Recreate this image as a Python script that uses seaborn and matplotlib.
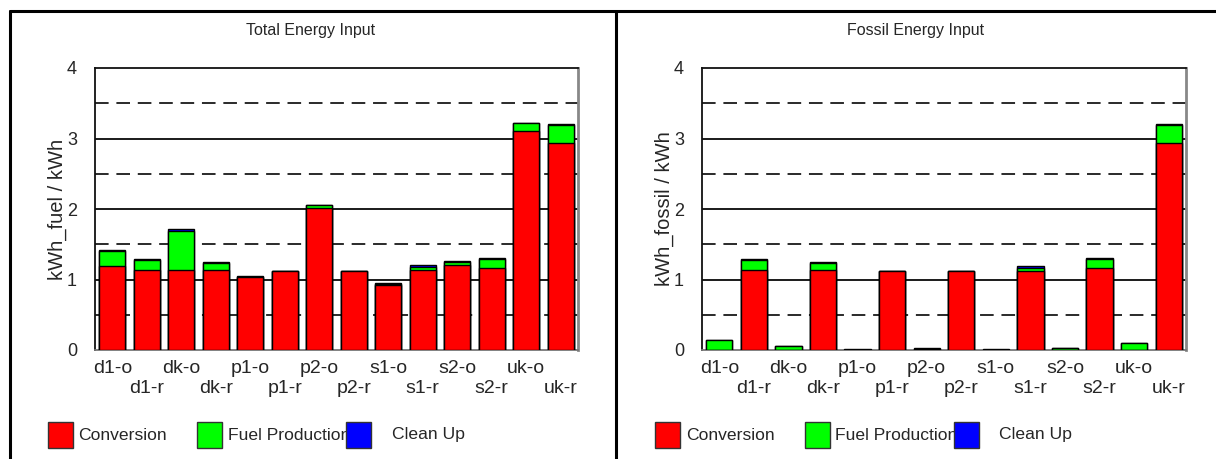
import matplotlib
matplotlib.use("Agg")
import matplotlib.pyplot as plt
from matplotlib.patches import Rectangle
from matplotlib.lines import Line2D
import numpy as np
import pandas as pd
import seaborn as sns

categories = ['d1-o', 'd1-r', 'dk-o', 'dk-r', 'p1-o', 'p1-r', 'p2-o', 'p2-r',
              's1-o', 's1-r', 's2-o', 's2-r', 'uk-o', 'uk-r']
series_names = ['Conversion', 'Fuel Production', 'Clean Up']

total_conversion = [1.19, 1.14, 1.14, 1.14, 1.03, 1.12, 2.01, 1.12, 0.92, 1.13, 1.21, 1.17, 3.11, 2.93]
total_fuel = [0.21, 0.14, 0.55, 0.10, 0.01, 0.00, 0.04, 0.00, 0.02, 0.05, 0.04, 0.12, 0.11, 0.26]
total_clean = [0.02, 0.01, 0.02, 0.01, 0.01, 0.005, 0.01, 0.005, 0.01, 0.02, 0.01, 0.01, 0.005, 0.01]

fossil_conversion = [0.0, 1.14, 0.0, 1.14, 0.0, 1.12, 0.0, 1.12, 0.0, 1.12, 0.0, 1.17, 0.0, 2.93]
fossil_fuel = [0.14, 0.14, 0.05, 0.10, 0.0, 0.0, 0.015, 0.0, 0.0, 0.05, 0.03, 0.12, 0.10, 0.26]
fossil_clean = [0.005, 0.01, 0.005, 0.01, 0.01, 0.005, 0.01, 0.005, 0.01, 0.02, 0.005, 0.01, 0.005, 0.02]

titles = ['Total Energy Input', 'Fossil Energy Input']
ylabels = ['kWh_fuel / kWh', 'kWh_fossil / kWh']
colors = ['#FF0000', '#00FF00', '#0000FF']

sns.set_theme(style='white')
plt.rcParams['font.family'] = ['Liberation Sans', 'DejaVu Sans']

W, H = 1216, 459
fig = plt.figure(figsize=(W / 100, H / 100), dpi=100)

def px_axes(x0, x1, ytop, ybot):
    return fig.add_axes([x0 / W, (H - ybot) / H, (x1 - x0) / W, (ybot - ytop) / H])

axes = [px_axes(95, 578, 68, 350), px_axes(702, 1186, 68, 350)]
datasets = [(total_conversion, total_fuel, total_clean),
            (fossil_conversion, fossil_fuel, fossil_clean)]

for ax, (conv, fuel, clean), ylabel in zip(axes, datasets, ylabels):
    conv = np.array(conv); fuel = np.array(fuel); clean = np.array(clean)
    layers = [conv + fuel + clean, conv + fuel, conv]
    layer_colors = [colors[2], colors[1], colors[0]]
    for heights, col in zip(layers, layer_colors):
        df = pd.DataFrame({'cat': categories, 'val': heights})
        sns.barplot(data=df, x='cat', y='val', order=categories, color=col,
                    saturation=1, width=0.76, edgecolor='black', linewidth=1.0,
                    ax=ax, zorder=3)
    ax.set_ylim(0, 4)
    ax.set_xlim(-0.5, len(categories) - 0.5)
    ax.set_yticks([0, 1, 2, 3, 4])
    ax.set_yticklabels(['0', '1', '2', '3', '4'], fontsize=13)
    # grid
    for yv in [1, 2, 3]:
        ax.axhline(yv, color='#1a1a1a', lw=1.4, zorder=1)
    for yv in [0.5, 1.5, 2.5, 3.5]:
        ax.axhline(yv, color='#2a2a2a', lw=1.4, ls=(0, (7, 4)), zorder=1)
    ax.set_xticks(range(len(categories)))
    ax.set_xticklabels([c if i % 2 == 0 else '\n' + c for i, c in enumerate(categories)],
                       fontsize=14, linespacing=1.22)
    ax.tick_params(axis='x', which='major', length=0, pad=7)
    ax.set_xticks(np.arange(-0.5, len(categories), 1.0), minor=True)
    ax.tick_params(axis='x', which='minor', length=7, direction='inout', color='#888888', width=1)
    ax.tick_params(axis='y', which='major', length=10, direction='inout', color='#222222', width=1.2, pad=8)
    ax.set_xlabel('')
    ax.set_ylabel(ylabel, fontsize=14.5)
    ax.yaxis.set_label_coords(-0.058, 0.5)
    for s in ['left', 'top']:
        ax.spines[s].set_color('#111111'); ax.spines[s].set_linewidth(1.3)
    ax.spines['bottom'].set_color('#777777'); ax.spines['bottom'].set_linewidth(1.3)
    ax.spines['right'].set_color('#888888'); ax.spines['right'].set_linewidth(2)
    for s in ax.spines.values():
        s.set_visible(True)

# panel titles
fig.text(311 / W, 1 - 31 / H, titles[0], ha='center', va='center', fontsize=11.5)
fig.text(916 / W, 1 - 31 / H, titles[1], ha='center', va='center', fontsize=11.5)

# panel borders
fig.add_artist(Line2D([10 / W, 1.0], [1 - 11 / H, 1 - 11 / H], color='black', lw=2.2, transform=fig.transFigure))
fig.add_artist(Line2D([10 / W, 10 / W], [0, 1 - 11 / H], color='black', lw=2.2, transform=fig.transFigure))
fig.add_artist(Line2D([616 / W, 616 / W], [0, 1 - 11 / H], color='black', lw=2.2, transform=fig.transFigure))

# legends
legend_rows = [
    ([47.7, 197.3, 346.0], [78.3, 228.0, 391.7]),
    ([654.7, 804.7, 953.7], [685.7, 835.3, 998.7]),
]
for patch_x, text_x in legend_rows:
    for name, col, px, tx in zip(series_names, colors, patch_x, text_x):
        fig.text(tx / W, 1 - 435 / H, name, ha='left', va='center', fontsize=12.6, zorder=1)
        fig.add_artist(Rectangle((px / W, 1 - 448.3 / H), 25 / W, 26 / H, facecolor=col,
                                 edgecolor='#333333', lw=1, transform=fig.transFigure, zorder=5))

fig.savefig('out.png', dpi=100)
